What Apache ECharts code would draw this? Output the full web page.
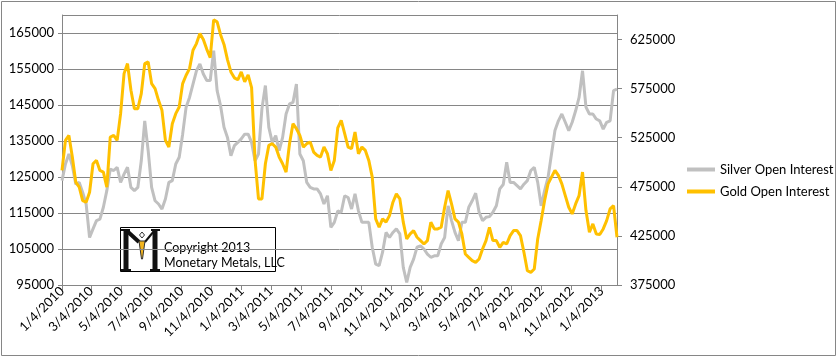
<!DOCTYPE html>
<html><head><meta charset="utf-8">
<script src="https://cdn.jsdelivr.net/npm/echarts@6/dist/echarts.min.js"></script>
<style>html,body{margin:0;padding:0;background:#fff}#c{width:837px;height:357px}</style>
</head><body><div id="c"></div>
<script>
// weekly observations starting 2010-01-04
const startDate = '2010-01-04';
const endDate = '2013-02-04';
const seriesNames = ['Silver Open Interest', 'Gold Open Interest'];
const silverOI = [
124000,128600,131400,128100,123000,123500,120700,117500,108200,110600,
112900,113300,116600,121200,127200,126800,127700,123500,125800,127700,
122100,121200,122100,129500,140600,132300,122100,118400,117500,116100,
118900,123500,124000,128600,130500,136900,144400,147100,150800,154500,
156400,153600,151800,151800,160100,149000,144800,138800,136000,130900,
133700,134600,135600,136900,136900,134600,129500,131400,144000,150400,
138800,134600,136500,132300,136000,142500,145300,145700,150800,131400,
129500,123500,122100,121700,121700,120300,117500,119800,111000,112400,
115600,115200,119800,119300,116100,120300,115600,112400,112400,112400,
105500,100800,100400,104100,109600,108200,109600,110600,109200,99900,
95700,99900,102200,105500,105900,105000,103600,102700,103100,103100,
106400,108200,117000,112900,109600,107300,112400,112400,116600,118400,
120500,115200,112900,113800,114000,115200,117000,121700,122900,129100,
123500,123500,122600,121700,123000,124000,126800,127700,123500,117000,
121200,124900,131400,137900,140600,142500,140200,137900,140200,143400,
147100,154500,144400,142500,142500,141100,140600,138300,140200,140600,
149000,149400];
const goldOI = [
491700,522300,527400,505300,479800,474600,461000,459300,469500,498500,
501900,491700,490000,474600,525700,527400,522300,549500,590300,600500,
573300,554600,554600,569900,600500,602200,580100,575000,563100,552900,
522300,515500,539300,549500,556300,580100,588600,595400,614100,620900,
631100,625000,615000,606600,645000,643000,630000,620000,604600,592000,
586000,584000,592000,582000,589000,576000,502500,462700,462700,498500,
517200,518900,515500,505300,498500,490000,518900,539300,534200,527400,
515500,518900,520600,510400,507000,505300,515500,508700,491700,501900,
535000,542700,529100,515500,513800,530800,508700,515500,512100,501900,
484900,442400,433800,442400,439000,445700,459300,467800,462700,439000,
421900,427000,430400,423600,420200,416800,420200,439000,432100,432100,
433800,454200,471200,457600,442400,439000,427000,406600,403200,399800,
398000,401500,411700,420200,433800,420200,420200,413400,418500,416800,
425300,430400,430400,425300,408300,389600,387900,391300,421900,440600,
461000,478000,484900,491700,486600,478000,466100,454200,447400,457600,
466100,490000,450800,428700,437200,427000,426400,432100,440600,452500,
455900,423600];
const labelMonths = [1,3,5,7,9,11];
const labelDay = 4;
const leftAxis = {min: 95000, max: 170000, step: 10000};
const rightAxis = {min: 375000, max: 650000, step: 50000};

const DAY = 86400000;
const t0 = Date.parse(startDate + 'T00:00:00Z');
const t1 = Date.parse(endDate + 'T00:00:00Z');
function fmt(t){ const d = new Date(t); return (d.getUTCMonth()+1) + '/' + d.getUTCDate() + '/' + d.getUTCFullYear(); }
const days = [];
for (let t = t0; t <= t1; t += DAY) days.push(fmt(t));
const weekDates = silverOI.map((_, i) => fmt(t0 + i * 7 * DAY));
function isLabel(v){ const p = v.split('/'); return +p[1] === labelDay && labelMonths.indexOf(+p[0]) >= 0; }

const FONT = 'Lato';
const GRAY = '#868686';
const plain = v => String(Math.round(v));
const chart = echarts.init(document.getElementById('c'), null, {renderer: 'canvas'});
chart.setOption({
  animation: false,
  backgroundColor: '#fff',
  grid: {left: 62, right: 220, top: 15, bottom: 72, containLabel: false},
  legend: {
    orient: 'vertical', left: 682, top: 158, itemWidth: 28, itemHeight: 4, itemGap: 9,
    icon: 'rect', data: seriesNames,
    textStyle: {fontFamily: FONT, fontSize: 13, color: '#000'}
  },
  xAxis: {
    type: 'category', data: days, boundaryGap: false,
    axisLine: {lineStyle: {color: GRAY, width: 1}},
    axisTick: {show: true, interval: (i, v) => isLabel(v), length: 5, lineStyle: {color: GRAY}},
    axisLabel: {interval: (i, v) => isLabel(v), rotate: 45, margin: 4, fontFamily: FONT, fontSize: 13, color: '#000'},
    splitLine: {show: false}
  },
  yAxis: [{
    type: 'value', position: 'left', min: leftAxis.min, max: leftAxis.max, interval: leftAxis.step,
    axisLine: {show: true, lineStyle: {color: GRAY}},
    axisTick: {show: true, length: 4, lineStyle: {color: GRAY}},
    axisLabel: {margin: 8, fontFamily: FONT, fontSize: 13, color: '#000', showMaxLabel: false, formatter: plain},
    splitLine: {show: true, lineStyle: {color: GRAY, width: 1}}
  }, {
    type: 'value', position: 'right', min: rightAxis.min, max: rightAxis.max, interval: rightAxis.step,
    axisLine: {show: true, lineStyle: {color: GRAY}},
    axisTick: {show: true, length: 5, lineStyle: {color: GRAY}},
    axisLabel: {margin: 13, fontFamily: FONT, fontSize: 13, color: '#000', showMaxLabel: false, formatter: plain},
    splitLine: {show: false}
  }],
  series: [{
    name: seriesNames[0], type: 'line', yAxisIndex: 0, showSymbol: false, symbol: 'none',
    data: weekDates.map((d, i) => [d, silverOI[i]]),
    lineStyle: {color: '#C0C0C0', width: 3}, itemStyle: {color: '#C0C0C0'}
  }, {
    name: seriesNames[1], type: 'line', yAxisIndex: 1, showSymbol: false, symbol: 'none',
    data: weekDates.map((d, i) => [d, goldOI[i]]),
    lineStyle: {color: '#FFC000', width: 3}, itemStyle: {color: '#FFC000'}
  }],
  graphic: [
    {type: 'rect', shape: {x: 1.5, y: 1.5, width: 834, height: 354}, style: {fill: 'none', stroke: GRAY, lineWidth: 1}, silent: true, z: 0},
    {type: 'group', z: 100, children: [
      {type: 'rect', shape: {x: 120.5, y: 227.5, width: 155, height: 44}, style: {fill: '#fff', stroke: '#000', lineWidth: 1}},
      {type: 'polyline', shape: {points: [[126, 231], [126, 269]]}, style: {stroke: '#111', lineWidth: 5, fill: null}},
      {type: 'polyline', shape: {points: [[155, 231], [155, 269]]}, style: {stroke: '#111', lineWidth: 5, fill: null}},
      {type: 'polyline', shape: {points: [[121, 230], [130, 230]]}, style: {stroke: '#111', lineWidth: 2, fill: null}},
      {type: 'polyline', shape: {points: [[151, 230], [160, 230]]}, style: {stroke: '#111', lineWidth: 2, fill: null}},
      {type: 'polyline', shape: {points: [[121, 270], [131, 270]]}, style: {stroke: '#111', lineWidth: 2, fill: null}},
      {type: 'polyline', shape: {points: [[150, 270], [160, 270]]}, style: {stroke: '#111', lineWidth: 2, fill: null}},
      {type: 'polyline', shape: {points: [[127, 231], [139, 242]]}, style: {stroke: '#111', lineWidth: 4, fill: null}},
      {type: 'polyline', shape: {points: [[154, 231], [145, 242]]}, style: {stroke: '#111', lineWidth: 2, fill: null}},
      {type: 'polygon', shape: {points: [[142, 232], [144.5, 235], [142, 238], [139.5, 235]]}, style: {fill: '#fff', stroke: '#333', lineWidth: 1}},
      {type: 'polygon', shape: {points: [[139, 241], [145, 241], [142.5, 259], [141.5, 259]]}, style: {fill: '#F2B41E', stroke: '#333', lineWidth: 1}},
      {type: 'text', style: {x: 164, y: 248, text: 'Copyright 2013', fontFamily: FONT, fontSize: 12.5, fill: '#000', verticalAlign: 'middle'}},
      {type: 'text', style: {x: 164, y: 263, text: 'Monetary Metals, LLC', fontFamily: FONT, fontSize: 12.5, fill: '#000', verticalAlign: 'middle'}}
    ]}
  ]
});
</script></body></html>
